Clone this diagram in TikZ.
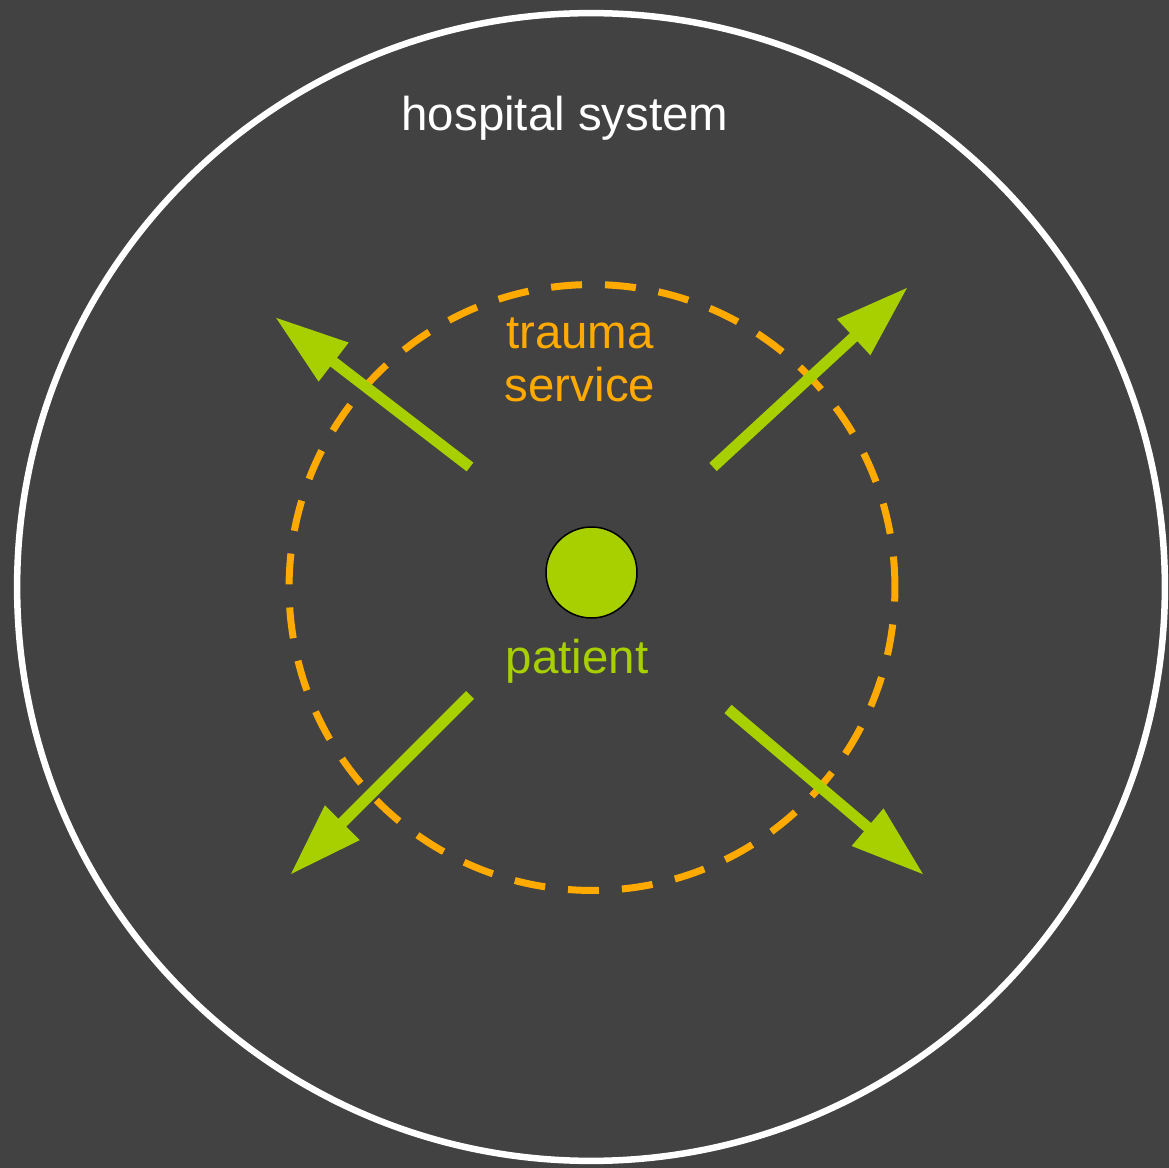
\documentclass[tikz,border=0pt]{standalone}
\usepackage{fontspec}
\setmainfont{Liberation Sans}
\usetikzlibrary{arrows.meta}

\definecolor{bggrey}{HTML}{424242}
\definecolor{limegreen}{HTML}{A8D000}
\definecolor{traumaorange}{HTML}{FFAA00}

\begin{document}
\begin{tikzpicture}[x=0.02cm,y=-0.02cm,
	txt/.style={font=\fontsize{27}{30.5}\selectfont, inner sep=0pt, anchor=base, align=center},
	spread/.style={draw=limegreen, line width=0.22cm, -{Triangle[length=1.48cm,width=0.92cm]}}]
	\fill[bggrey] (0,0) rectangle (1169,1168);
	\useasboundingbox (0,0) rectangle (1169,1168);

	\node[shape=circle,draw=white,line width=0.13cm,inner sep=0pt,minimum size=22.96cm] (hospital) at (591, 587) {};
	\node[shape=circle,draw=traumaorange,line width=0.14cm,dash pattern=on 0.62cm off 0.46cm,inner sep=0pt,minimum size=12.12cm] (trauma) at (592, 587.5) {};
	\node[shape=circle,draw=black,fill=limegreen,line width=0.03cm,inner sep=0pt,minimum size=1.82cm] (patient) at (591.5, 572.5) {};

	\node[txt,text=white] (hosplabel) at (565, 131) {hospital system};
	\node[txt,text=traumaorange] (traumalabel) at (580, 402) {trauma\\service};
	\node[txt,text=limegreen] (patientlabel) at (577, 673) {patient};

	\coordinate (ul0) at (470, 467);
	\coordinate (ul)  at (275, 317);
	\coordinate (ur0) at (713, 467);
	\coordinate (ur)  at (908, 287);
	\coordinate (ll0) at (470, 695);
	\coordinate (ll)  at (290, 875);
	\coordinate (lr0) at (728, 709);
	\coordinate (lr)  at (924, 875);

	\draw[spread] (ul0) -- (ul);
	\draw[spread] (ur0) -- (ur);
	\draw[spread] (ll0) -- (ll);
	\draw[spread] (lr0) -- (lr);
\end{tikzpicture}
\end{document}
